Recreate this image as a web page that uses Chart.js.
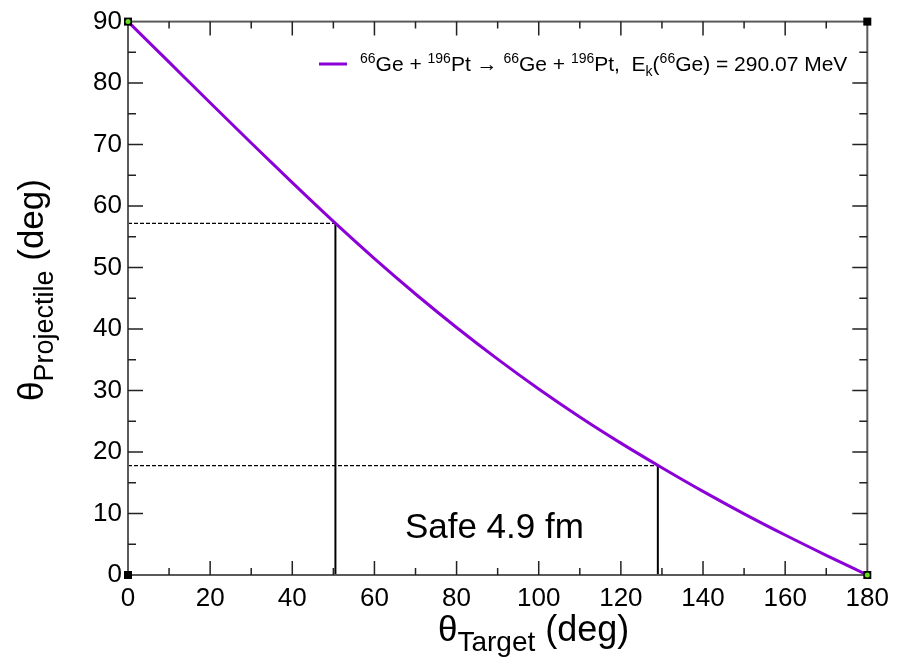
<!DOCTYPE html>
<html>
<head>
<meta charset="utf-8">
<script src="https://cdn.jsdelivr.net/npm/chart.js@4/dist/chart.umd.min.js"></script>
<style>
  html, body { margin: 0; padding: 0; background: #fff; }
  #wrap { width: 897px; height: 671px; }
</style>
</head>
<body>
<div id="wrap"><canvas id="kinChart" width="897" height="671"></canvas></div>
<script>
// --- data: projectile vs target angle (deg) ---
const thetaTarget = [0, 10, 20, 30, 40, 50, 60, 70, 80, 90, 100, 110, 120, 130, 140, 150, 160, 170, 180];
const thetaProjectile = [90, 83.4, 76.8, 70.25, 63.8, 57.5, 51.45, 45.7, 40.25, 35.1, 30.25, 25.7, 21.45, 17.45, 13.6, 9.95, 6.5, 3.2, 0];

// safe-distance markers (4.9 fm)
const safeTarget = [50.5, 129];
const safeProjectile = [57.2, 17.8];

const xTicks = [0, 20, 40, 60, 80, 100, 120, 140, 160, 180];
const yTicks = [0, 10, 20, 30, 40, 50, 60, 70, 80, 90];

const FONT = "'Liberation Sans', Arial, Helvetica, sans-serif";
const PURPLE = '#8C00D8';

function pts(xs, ys) {
    return xs.map(function (x, i) { return { x: x, y: ys[i] }; });
}

// dashed horizontal and solid vertical guide lines
var guides = [];
safeTarget.forEach(function (tx, i) {
    guides.push({
        data: [{ x: 0, y: safeProjectile[i] }, { x: tx, y: safeProjectile[i] }],
        borderColor: '#000', borderWidth: 1.3, borderDash: [4, 2],
        pointRadius: 0, showLine: true, clip: false
    });
    guides.push({
        data: [{ x: tx, y: 0 }, { x: tx, y: safeProjectile[i] }],
        borderColor: '#000', borderWidth: 2,
        pointRadius: 0, showLine: true, clip: false
    });
});

// draws text pieces with super/subscripts, left aligned at (x, y)
function drawRich(ctx, parts, x, y) {
    var cx = x;
    parts.forEach(function (p) {
        ctx.font = p.size + 'px ' + FONT;
        ctx.fillText(p.t, cx, y + (p.dy || 0));
        cx += ctx.measureText(p.t).width;
    });
    return cx;
}

const decorPlugin = {
    id: 'decor',
    afterDatasetsDraw: function (chart) {
        var ctx = chart.ctx;
        var a = chart.chartArea;
        var xs = chart.scales.x, ys = chart.scales.y;
        ctx.save();

        // frame
        ctx.strokeStyle = '#5a5a5a';
        ctx.lineWidth = 2;
        ctx.strokeRect(a.left, a.top, a.right - a.left, a.bottom - a.top);

        // inward ticks on all four sides
        ctx.strokeStyle = '#222';
        ctx.lineWidth = 1.5;
        ctx.beginPath();
        for (var v = 10; v < 180; v += 10) {
            var px = xs.getPixelForValue(v);
            var len = (v % 20 === 0) ? 14 : 7;
            ctx.moveTo(px, a.bottom); ctx.lineTo(px, a.bottom - len);
            ctx.moveTo(px, a.top); ctx.lineTo(px, a.top + len);
        }
        for (var w = 5; w < 90; w += 5) {
            var py = ys.getPixelForValue(w);
            var l2 = (w % 10 === 0) ? 15 : 8;
            ctx.moveTo(a.left, py); ctx.lineTo(a.left + l2, py);
            ctx.moveTo(a.right, py); ctx.lineTo(a.right - l2, py);
        }
        ctx.stroke();

        // corner squares
        ctx.fillStyle = '#000';
        [[a.left, a.top], [a.right, a.top], [a.left, a.bottom], [a.right, a.bottom]].forEach(function (c) {
            ctx.fillRect(c[0] - 4, c[1] - 4, 8, 8);
        });

        // green end symbols of the curve
        ctx.fillStyle = '#66dd22';
        [0, thetaTarget.length - 1].forEach(function (i) {
            ctx.beginPath();
            ctx.arc(xs.getPixelForValue(thetaTarget[i]), ys.getPixelForValue(thetaProjectile[i]), 2.5, 0, Math.PI * 2);
            ctx.fill();
        });

        // annotation
        ctx.fillStyle = '#000';
        ctx.textAlign = 'center';
        ctx.textBaseline = 'alphabetic';
        ctx.font = '35px ' + FONT;
        ctx.fillText('Safe 4.9 fm', xs.getPixelForValue(89.2), ys.getPixelForValue(6.0));
        ctx.textAlign = 'left';

        // legend
        ctx.strokeStyle = PURPLE;
        ctx.lineWidth = 3;
        ctx.beginPath();
        ctx.moveTo(319, 64); ctx.lineTo(347, 64);
        ctx.stroke();
        var N = 21, S = 14;
        drawRich(ctx, [
            { t: '66', size: S, dy: -8 }, { t: 'Ge + ', size: N },
            { t: '196', size: S, dy: -8 }, { t: 'Pt \u2192 ', size: N },
            { t: '66', size: S, dy: -8 }, { t: 'Ge + ', size: N },
            { t: '196', size: S, dy: -8 }, { t: 'Pt,  E', size: N },
            { t: 'k', size: S, dy: 5 }, { t: '(', size: N },
            { t: '66', size: S, dy: -8 }, { t: 'Ge) = 290.07 MeV', size: N }
        ], 360, 71);

        // axis titles
        drawRich(ctx, [
            { t: '\u03b8', size: 35 }, { t: 'Target', size: 28, dy: 10 }, { t: ' (deg)', size: 36 }
        ], 438, 641);

        ctx.translate(43, 401);
        ctx.rotate(-Math.PI / 2);
        drawRich(ctx, [
            { t: '\u03b8', size: 35 }, { t: 'Projectile', size: 27, dy: 10 }, { t: ' (deg)', size: 35 }
        ], 0, 0);

        ctx.restore();
    }
};

new Chart(document.getElementById('kinChart').getContext('2d'), {
    type: 'scatter',
    data: {
        datasets: [{
            label: 'curve',
            data: pts(thetaTarget, thetaProjectile),
            borderColor: PURPLE,
            borderWidth: 3,
            showLine: true,
            cubicInterpolationMode: 'monotone',
            pointRadius: 0,
            clip: false
        }].concat(guides)
    },
    options: {
        responsive: false,
        animation: false,
        layout: { padding: { top: 19, right: 28, left: 0, bottom: 0 } },
        plugins: {
            legend: { display: false },
            tooltip: { enabled: false }
        },
        scales: {
            x: {
                type: 'linear', min: 0, max: 180,
                grid: { display: false, drawTicks: false, tickLength: 0 },
                border: { display: false },
                ticks: {
                    stepSize: 20, padding: 8, color: '#000',
                    font: { family: FONT, size: 26 },
                    callback: function (v) { return xTicks.indexOf(v) >= 0 ? String(v) : ''; }
                },
                afterFit: function (s) { s.height = 96; }
            },
            y: {
                type: 'linear', min: 0, max: 90,
                grid: { display: false, drawTicks: false, tickLength: 0 },
                border: { display: false },
                ticks: {
                    stepSize: 10, padding: 6, color: '#000',
                    font: { family: FONT, size: 26 },
                    callback: function (v) { return yTicks.indexOf(v) >= 0 ? String(v) : ''; }
                },
                afterFit: function (s) { s.width = 128; }
            }
        }
    },
    plugins: [decorPlugin]
});
</script>
</body>
</html>
